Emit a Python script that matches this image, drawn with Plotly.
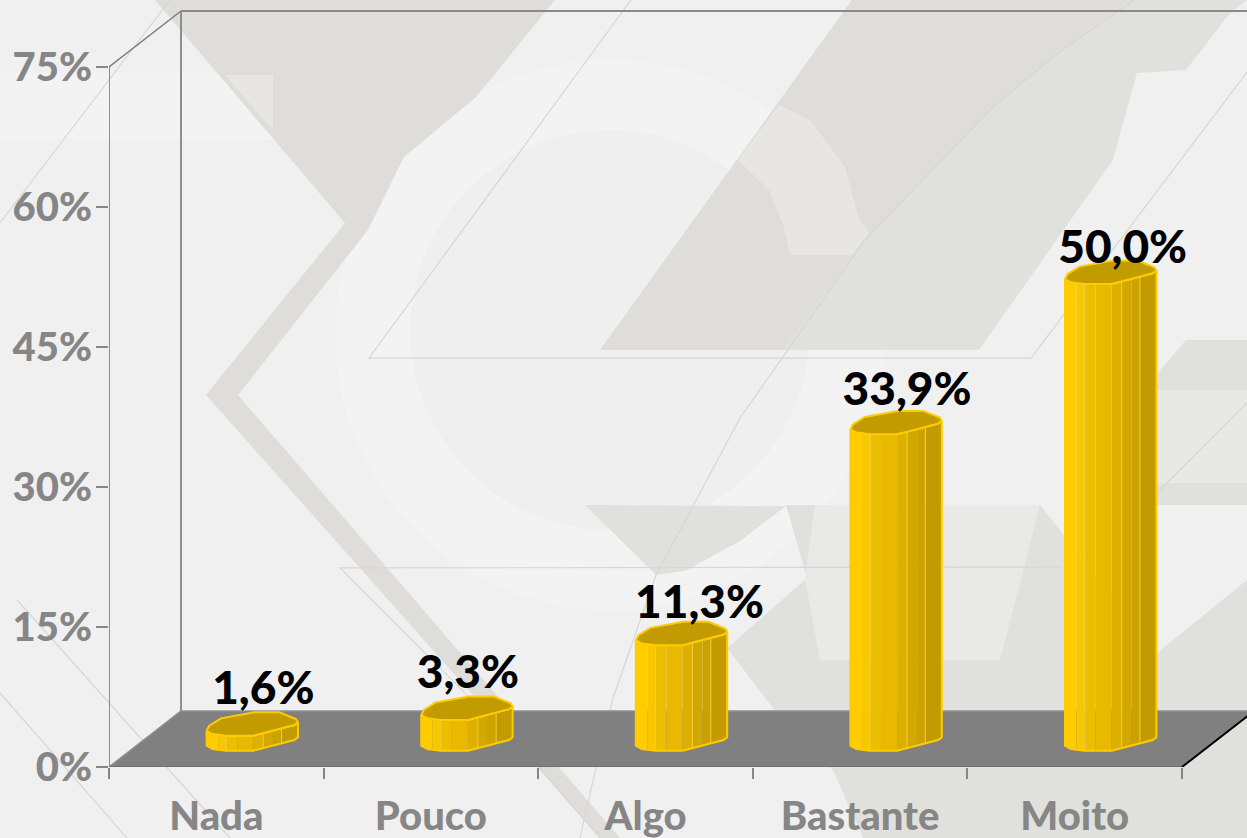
import numpy as np
import plotly.graph_objects as go

# ---------- data ----------
categories = ["Nada", "Pouco", "Algo", "Bastante", "Moito"]
values = [1.6, 3.3, 11.3, 33.9, 50.0]
value_labels = ["1,6%", "3,3%", "11,3%", "33,9%", "50,0%"]
y_ticks = [0, 15, 30, 45, 60, 75]
y_tick_labels = ["0%", "15%", "30%", "45%", "60%", "75%"]

# ---------- layout geometry ----------
W, H = 1247, 838
X0, X1, Y0, Y75 = 109, 1182, 767, 67
PX_X = (X1 - X0) / len(categories)      # pixels per category
PX_Y = (Y0 - Y75) / 75                  # pixels per percentage point
xr = [0, (W - X0) / PX_X]
yr = [0, Y0 / PX_Y]
DX, DY = 72 / PX_X, 56 / PX_Y           # depth of the 3D box

BAR_SHIFT_X = 36 / PX_X                 # bars stand mid-depth on the floor
BAR_SHIFT_Y = 28 / PX_Y

# bar footprint, pixels from its centre (up = positive)
back_x = np.array([-45.7, -43, -31.3, 2, 27, 43.7, 45.7])
back_y = np.array([-6.7, -1.7, 5.7, 11.7, 11.7, 5, 1.7])
front_x = np.array([-45.7, -39.7, -26.3, 1, 42, 45.7])
front_y = np.array([-6.7, -10, -11.7, -11.7, -1, 1.7])

strip_edges = [0, .126, .216, .335, .511, .62, .73, .82, 1]
strip_colors = ["#FFCC00", "#F9C700", "#ECBE00", "#E8B900", "#DDB000", "#D1A700", "#CBA200", "#C29B00"]
seam_edges = [.216, .62, .82]

GREY = "#868686"
fig = go.Figure()


def poly(xs, ys, color):
    fig.add_trace(go.Scatter(x=xs, y=ys, mode="lines", fill="toself", fillcolor=color,
                             line=dict(width=0), hoverinfo="skip", showlegend=False, cliponaxis=False))


def line(xs, ys, color=GREY, width=2):
    fig.add_trace(go.Scatter(x=xs, y=ys, mode="lines", line=dict(color=color, width=width),
                             hoverinfo="skip", showlegend=False, cliponaxis=False))


# ---------- 3D box ----------
poly([0, DX, 5 + DX, 5, 0], [0, DY, DY, 0, 0], "#808080")
line([0, 0], [0, 75], "#8E8E8E", 2)
line([DX, DX], [DY, 75 + DY], "#8E8E8E", 2)
line([DX, 5 + DX], [75 + DY, 75 + DY], "#8A8A8A", 2)
line([0, DX], [75, 75 + DY], "#7c7c7c", 1.5)
line([0, DX, 5 + DX], [0, DY, DY], "#8e8e8e", 1.5)
line([0, 5], [0, 0], "#6f6f6f", 2)
line([5, 5 + DX], [0, DY], "#000000", 2)

# ---------- bars ----------
for i, v in enumerate(values):
    cx = i + 0.5 + BAR_SHIFT_X
    top = v + BAR_SHIFT_Y
    base = BAR_SHIFT_Y
    fx = cx + front_x / PX_X
    fy = front_y / PX_Y
    left, right = fx[0], fx[-1]
    for a, b, col in zip(strip_edges[:-1], strip_edges[1:], strip_colors):
        xs = np.linspace(left + a * (right - left), left + b * (right - left), 8)
        prof = np.interp(xs, fx, fy)
        poly(list(xs) + list(xs[::-1]) + [xs[0]],
             list(top + prof) + list((base + prof)[::-1]) + [top + prof[0]], col)
    sx, sy = [], []
    for e in seam_edges:
        x = left + e * (right - left)
        p = np.interp(x, fx, fy)
        sx += [x, x, None]
        sy += [top + p, base + p, None]
    line(sx, sy, "#F2CE3A", 1)
    # outline round the body, then the darker top face
    ox = list(fx) + list(fx[::-1]) + [fx[0]]
    oy = list(top + fy) + list((base + fy)[::-1]) + [top + fy[0]]
    line(ox, oy, "#FFCC00", 2)
    cap_x = list(cx + back_x / PX_X) + list(fx[::-1])
    cap_y = list(top + back_y / PX_Y) + list(top + fy[::-1])
    fig.add_trace(go.Scatter(x=cap_x, y=cap_y, mode="lines", fill="toself", fillcolor="#C29B00",
                             line=dict(color="#FFCC00", width=2), hoverinfo="skip", showlegend=False,
                             cliponaxis=False))

# ---------- value labels ----------
label_lift_px = [60, 60, 55, 57, 49]
label_nudge_px = [11, 1, 18, 11, 12]
fig.add_trace(go.Scatter(
    x=[i + 0.5 + BAR_SHIFT_X + n / PX_X for i, n in enumerate(label_nudge_px)],
    y=[v + p / PX_Y for v, p in zip(values, label_lift_px)],
    mode="text", text=value_labels, textposition="middle center",
    textfont=dict(family="Lato", size=46, color="#000000", weight=900),
    hoverinfo="skip", showlegend=False, cliponaxis=False))

# ---------- watermark background (page pixels -> paper fractions) ----------
PW, PH = W - X0, Y0


def fx_(x):
    return (x - X0) / PW


def fy_(y):
    return (Y0 - y) / PH


def px_path(pts, close=True):
    return "M" + " L".join(f"{fx_(x):.4f},{fy_(y):.4f}" for x, y in pts) + (" Z" if close else "")


DK1, DK2, MID = "#DFDDDA", "#E0E1DC", "#E8E6E3"
shapes = [
    dict(type="circle", xref="paper", yref="paper", x0=fx_(335), x1=fx_(885), y0=fy_(610), y1=fy_(60),
         fillcolor="#F3F3F3", line=dict(width=0), layer="below"),
    dict(type="circle", xref="paper", yref="paper", x0=fx_(410), x1=fx_(810), y0=fy_(530), y1=fy_(130),
         fillcolor="#EFEFEF", line=dict(width=0), layer="below"),
]
bg_fills = [
    ([(0, 73), (272, 73), (272, 140), (0, 140)], "#F3F3F3"),
    ([(155, 0), (555, 0), (476, 97), (404, 157), (368, 230), (238, 395), (206, 395), (345, 223)], DK1),
    ([(225, 75), (273, 75), (273, 130)], MID),
    ([(206, 395), (238, 395), (620, 838), (600, 838)], DK1),
    ([(600, 350), (852, 0), (1247, 0), (1230, 13), (1186, 70), (1137, 73), (1113, 160), (979, 350)], DK2),
    ([(600, 350), (852, 0), (1134, 0), (1120, 7), (1058, 53), (993, 107), (865, 240), (783, 350)], DK1),
    ([(779, 105), (810, 120), (845, 167), (858, 217), (869, 233), (852, 255), (790, 255), (784, 227), (769, 190), (738, 160)], MID),
    ([(585, 505), (786, 506), (740, 541), (685, 571), (656, 575)], DK2),
    ([(786, 505), (1040, 505), (1157, 653), (1247, 580), (1247, 838), (863, 838), (833, 770), (773, 708), (727, 648), (807, 578)], DK2),
    ([(805, 578), (815, 505), (1040, 505), (1000, 660), (820, 660)], "#E9E9E7"),
    ([(1158, 373), (1186, 340), (1247, 340), (1247, 390), (1157, 390)], DK2),
    ([(1157, 390), (1247, 390), (1247, 483), (1157, 483)], "#E8E8E5"),
    ([(1157, 483), (1247, 483), (1247, 505), (1157, 505)], DK2),
]
bg_lines = [
    [(631, 0), (369, 358), (1031, 358), (1247, 72)],
    [(1134, 0), (1058, 53), (993, 107), (865, 240), (740, 418), (656, 575), (613, 698), (592, 785), (580, 838)],
    [(1062, 567), (340, 568), (540, 768), (600, 838)],
    [(0, 223), (170, 0)],
    [(17, 600), (230, 838)],
    [(0, 693), (127, 838)],
    [(1157, 493), (1247, 403)],
]
shapes += [dict(type="path", xref="paper", yref="paper", path=px_path(p), fillcolor=c,
                line=dict(width=0), layer="below") for p, c in bg_fills]
shapes += [dict(type="path", xref="paper", yref="paper", path=px_path(p, False), fillcolor="rgba(0,0,0,0)",
                line=dict(color="#D6D6D6", width=1.2), layer="below") for p in bg_lines]

# ---------- axes ----------
axis_font = dict(family="Lato", size=40, color=GREY, weight=900)
fig.update_layout(
    width=W, height=H, autosize=False,
    margin=dict(l=X0, r=0, t=0, b=H - Y0, pad=0),
    paper_bgcolor="#F0F0F0", plot_bgcolor="rgba(0,0,0,0)",
    showlegend=False, shapes=shapes,
    xaxis=dict(range=xr, tickmode="array", tickvals=[i + 0.5 for i in range(len(categories))],
               ticktext=categories, tickfont=axis_font, ticks="outside", ticklen=0, tickcolor=GREY,
               ticklabelstandoff=14, automargin=False, showgrid=False, zeroline=False, showline=False),
    xaxis2=dict(range=xr, overlaying="x", anchor="y", side="bottom",
                tickmode="array", tickvals=list(range(len(categories) + 1)), showticklabels=False,
                ticks="outside", ticklen=11, tickwidth=2, tickcolor=GREY, automargin=False,
                showgrid=False, zeroline=False, showline=False),
    yaxis=dict(range=yr, tickmode="array", tickvals=y_ticks, ticktext=y_tick_labels,
               tickfont=axis_font, ticks="outside", ticklen=12, tickwidth=2, tickcolor=GREY,
               ticklabelstandoff=-4, automargin=False, showgrid=False, zeroline=False, showline=False),
)
# a hidden trace keeps the tick-only axis alive
fig.add_trace(go.Scatter(x=[0], y=[0], xaxis="x2", mode="markers", marker=dict(opacity=0),
                         hoverinfo="skip", showlegend=False))

fig.write_html("out.html", config=dict(displayModeBar=False),
               post_script="document.body.style.margin='0';document.body.style.overflow='hidden';")
